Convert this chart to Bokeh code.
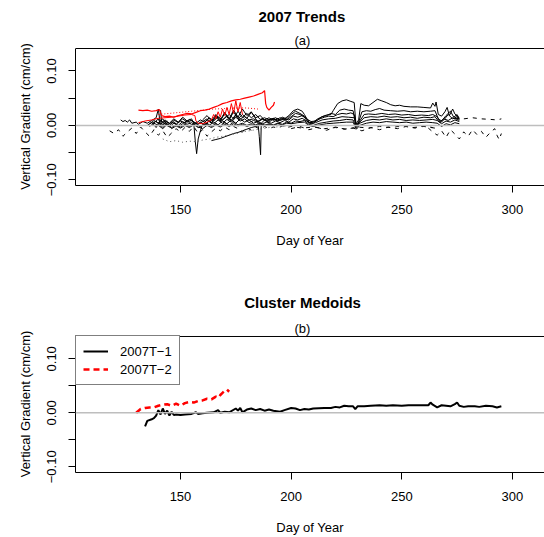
from bokeh.plotting import figure
from bokeh.models import (FixedTicker, Span, Title, Range1d, Legend, LegendItem)
from bokeh.layouts import column
from bokeh.embed import file_html
from bokeh.resources import INLINE

FONT = "Liberation Sans"

# ---------------- panel (a): 2007 trends ----------------
t01_day = [138, 140, 141, 143, 145, 147, 149, 151, 153, 155, 157, 159, 161, 163, 165, 167, 169, 171, 173, 175,
           177, 179, 181, 183, 185, 187, 189, 191, 193, 195, 197, 199, 201, 203, 205, 206, 208, 210, 212, 214,
           216, 218, 219, 221, 223, 225, 227, 228.5, 229.3, 230.5, 231.5, 233, 235, 237, 239, 241, 243, 245,
           247, 249, 251, 254, 257, 260, 263, 264, 265, 265.5, 266.5, 268, 269.5, 270.5, 271.5, 273, 274, 275, 276]
t01_val = [0.004, 0.012, 0.002, 0.008, 0.003, 0.010, 0.005, 0.012, 0.006, 0.009, 0.004, 0.010, 0.006, 0.014,
           0.008, 0.016, 0.010, 0.018, 0.009, 0.020, 0.012, 0.016, 0.010, 0.012, 0.008, 0.011, 0.009, 0.012,
           0.010, 0.014, 0.012, 0.018, 0.027, 0.030, 0.026, 0.020, 0.006, 0.004, 0.010, 0.016, 0.019, 0.020,
           0.027, 0.040, 0.045, 0.047, 0.044, 0.042, 0.002, 0.010, 0.040, 0.037, 0.036, 0.042, 0.048, 0.045,
           0.042, 0.038, 0.036, 0.037, 0.035, 0.034, 0.034, 0.033, 0.032, 0.041, 0.035, 0.043, 0.020, 0.017,
           0.025, 0.033, 0.018, 0.030, 0.021, 0.017, 0.014]

t02_day = [136, 138, 140, 142, 144, 146, 148, 150, 152, 154, 156, 158, 160, 162, 164, 166, 168, 170, 172, 174,
           176, 178, 180, 182, 184, 186, 188, 190, 192, 194, 196, 198, 200, 202, 204, 206, 208, 210, 212, 214,
           216, 218, 220, 222, 224, 226, 228, 229.3, 230.5, 232, 234, 236, 238, 240, 242, 245, 248, 251, 254,
           257, 260, 263, 265, 266.5, 268, 270, 272, 273.5, 275, 276]
t02_val = [0.002, 0.009, 0.004, 0.012, 0.000, 0.006, 0.002, 0.008, 0.004, 0.011, 0.006, 0.002, 0.007, 0.012,
           0.005, 0.015, 0.007, 0.013, 0.020, 0.012, 0.026, 0.015, 0.022, 0.014, 0.020, 0.011, 0.014, 0.010,
           0.013, 0.008, 0.012, 0.010, 0.016, 0.022, 0.020, 0.015, 0.004, 0.006, 0.012, 0.016, 0.018, 0.022,
           0.020, 0.028, 0.030, 0.028, 0.027, -0.002, 0.006, 0.025, 0.027, 0.026, 0.029, 0.031, 0.028, 0.027,
           0.026, 0.027, 0.025, 0.026, 0.025, 0.026, 0.027, 0.012, 0.008, 0.018, 0.026, 0.015, 0.020, 0.012]

t03_day = [135, 137, 139, 141, 143, 145, 147, 149, 151, 153, 155, 157, 159, 161, 163, 165, 167, 169, 171, 173,
           175, 177, 179, 181, 183, 185, 187, 189, 191, 193, 195, 197, 199, 201, 203, 205, 207, 209, 211, 213,
           215, 217, 219, 221, 223, 225, 227, 228.5, 229.5, 231, 233, 235, 238, 241, 244, 247, 250, 253, 256,
           259, 262, 264, 266, 267.5, 269, 271, 273, 275, 276]
t03_val = [0.000, 0.006, -0.004, 0.010, 0.002, -0.003, 0.004, 0.000, 0.007, 0.002, 0.005, 0.000, 0.006, 0.001,
           0.008, 0.003, 0.010, 0.004, 0.011, 0.006, 0.015, 0.008, 0.012, 0.005, 0.009, 0.006, 0.012, 0.007,
           0.011, 0.014, 0.009, 0.012, 0.010, 0.017, 0.015, 0.018, 0.012, 0.007, 0.008, 0.012, 0.015, 0.017,
           0.016, 0.020, 0.022, 0.021, 0.023, 0.020, 0.000, 0.008, 0.020, 0.021, 0.020, 0.022, 0.020, 0.021,
           0.019, 0.020, 0.018, 0.019, 0.018, 0.020, 0.016, 0.005, 0.010, 0.020, 0.012, 0.016, 0.010]

t04_day = [137, 139, 141, 143, 145, 147, 149, 151, 153, 155, 157, 159, 161, 163, 165, 167, 169, 171, 173, 175,
           177, 179, 181, 183, 185, 187, 189, 191, 193, 195, 197, 199, 201, 203, 205, 207, 209, 211, 214, 217,
           220, 223, 226, 228.5, 229.5, 231, 233, 236, 239, 242, 245, 248, 251, 254, 257, 260, 263, 265, 267,
           269, 271, 273, 275, 276]
t04_val = [0.003, 0.008, -0.002, 0.005, 0.000, 0.007, -0.002, 0.003, 0.009, 0.001, 0.004, -0.003, 0.003, 0.000,
           0.006, 0.001, 0.008, 0.003, 0.010, 0.004, 0.012, 0.006, 0.010, 0.004, 0.007, 0.003, 0.006, 0.004,
           0.008, 0.005, 0.009, 0.006, 0.012, 0.010, 0.013, 0.008, 0.003, 0.005, 0.010, 0.012, 0.013, 0.016,
           0.015, 0.014, -0.001, 0.006, 0.014, 0.016, 0.015, 0.017, 0.015, 0.016, 0.014, 0.015, 0.013, 0.015,
           0.014, 0.016, 0.006, 0.012, 0.009, 0.014, 0.011, 0.009]

t05_day = [136, 138, 140, 142, 144, 146, 148, 150, 152, 154, 156, 158, 160, 162, 164, 166, 168, 170, 172, 174,
           176, 178, 180, 182, 184, 186, 188, 190, 192, 194, 196, 198, 200, 202, 204, 206, 208, 210, 213, 216,
           219, 222, 225, 228, 229.5, 231, 234, 237, 240, 243, 246, 249, 252, 255, 258, 261, 264, 266, 268,
           270, 272, 274, 276]
t05_val = [-0.002, 0.004, 0.000, -0.006, 0.002, -0.004, 0.001, -0.003, 0.002, -0.002, 0.003, -0.004, 0.000,
           0.004, -0.002, 0.003, -0.001, 0.005, 0.000, 0.006, 0.001, 0.004, 0.000, 0.003, 0.001, 0.004, 0.000,
           0.003, 0.001, 0.004, 0.002, 0.006, 0.004, 0.008, 0.007, 0.009, 0.002, 0.000, 0.004, 0.006, 0.008,
           0.009, 0.011, 0.010, -0.004, 0.004, 0.009, 0.011, 0.010, 0.012, 0.010, 0.011, 0.009, 0.010, 0.009,
           0.010, 0.011, 0.009, 0.003, 0.008, 0.006, 0.010, 0.007]

t06_day = [140, 142, 144, 146, 148, 150, 152, 154, 156, 158, 160, 162, 164, 166, 168, 170, 172, 174, 176, 178,
           180, 182, 184, 186, 188, 190, 192, 194, 196, 198, 200, 203, 206, 208, 210, 213, 216, 219, 222, 225,
           228, 229.5, 231, 234, 237, 240, 243, 246, 249, 252, 255, 258, 261, 264, 266, 268, 270, 272, 274, 276]
t06_val = [0.006, -0.004, 0.003, -0.006, -0.001, -0.005, 0.000, -0.004, 0.001, -0.003, -0.006, 0.000, -0.004,
           0.001, -0.003, 0.002, -0.002, 0.003, -0.001, 0.002, -0.002, 0.001, -0.002, 0.002, 0.000, 0.002,
           0.000, 0.003, 0.001, 0.004, 0.003, 0.005, 0.006, 0.000, -0.002, 0.001, 0.003, 0.004, 0.005, 0.006,
           0.006, -0.007, 0.000, 0.004, 0.006, 0.005, 0.007, 0.006, 0.005, 0.006, 0.004, 0.005, 0.006, 0.005,
           0.004, -0.002, 0.003, 0.001, 0.005, 0.003]

t07_day = [141, 141.5, 143, 145, 147, 149, 151, 153, 155, 156, 156.7, 157.3, 158, 159, 160, 162, 164, 166, 168,
           170, 172, 174, 176, 178, 180, 182, 184, 186, 188, 190, 192, 194]
t07_val = [0.028, 0.005, 0.010, 0.004, 0.012, 0.006, 0.015, 0.008, 0.012, 0.004, -0.030, -0.052, -0.025, -0.010,
           0.002, 0.010, 0.004, 0.018, 0.008, 0.022, 0.010, 0.025, 0.012, 0.020, 0.013, 0.024, 0.014, 0.018,
           0.010, 0.014, 0.009, 0.013]

t08_day = [160, 162, 164, 166, 168, 170, 172, 174, 176, 178, 180, 182, 184, 185, 185.6, 186.2, 186.5, 188, 190,
           192, 194, 196, 198, 200, 202, 204, 206, 208]
t08_val = [0.010, 0.018, 0.008, 0.020, 0.010, 0.024, 0.012, 0.028, 0.015, 0.030, 0.018, 0.025, 0.012, 0.006,
           -0.020, -0.054, 0.004, 0.010, 0.006, 0.012, 0.008, 0.015, 0.012, 0.020, 0.026, 0.022, 0.017, 0.008]

t09_day = [164, 166, 168, 170, 172, 174, 176, 178, 180, 182, 184, 186, 188]
t09_val = [-0.028, -0.026, -0.024, -0.021, -0.018, -0.015, -0.013, -0.010, -0.007, -0.004, -0.002, 0.000, 0.002]

t10_day = [123, 124, 125, 126, 127, 128, 130, 131, 133, 135, 137, 139, 140, 140.8, 142, 144]
t10_val = [0.010, 0.007, 0.009, 0.006, 0.010, 0.004, 0.006, 0.002, 0.007, 0.004, 0.009, 0.014, 0.030, 0.005,
           0.000, 0.008]

d01_day = [118, 120, 122, 124, 126, 128, 130, 132, 134, 136, 138, 140, 142, 144, 146, 148, 150, 152, 154, 156,
           158, 160, 162, 164, 166, 168, 170, 172, 174, 176, 178, 180, 182, 184, 186, 188, 190, 192, 194, 196,
           198, 200, 205, 210, 215, 220, 225, 230, 235, 240, 245, 250, 255, 260, 265]
d01_val = [-0.010, -0.015, -0.008, -0.020, -0.012, -0.005, -0.015, -0.003, -0.012, -0.020, -0.008, -0.018,
           -0.010, -0.022, -0.014, -0.006, -0.012, -0.004, -0.011, -0.002, -0.015, -0.008, -0.020, -0.012,
           -0.005, -0.010, -0.003, -0.008, -0.002, -0.006, -0.012, -0.004, -0.009, -0.003, -0.007, -0.002,
           -0.006, -0.003, -0.005, -0.001, -0.004, -0.002, -0.005, -0.003, -0.006, -0.004, -0.007, -0.003,
           -0.005, -0.002, -0.004, -0.001, -0.004, -0.002, -0.005]

d02_day = [262, 264, 266, 268, 270, 272, 274, 276, 278, 280, 282, 284, 286, 288, 290, 292, 293, 294, 295]
d02_val = [-0.005, -0.012, -0.018, -0.010, -0.022, -0.008, -0.016, -0.025, -0.012, -0.020, -0.008, -0.017,
           -0.011, -0.022, -0.013, -0.006, -0.018, -0.026, -0.015]

d03_day = [274, 278, 282, 286, 290, 293, 295]
d03_val = [0.013, 0.012, 0.014, 0.012, 0.011, 0.010, 0.012]

d04_day = [142, 145, 148, 151, 154, 157, 160, 163, 166, 169, 172, 175, 178, 181, 184, 187, 190, 193, 196, 200]
d04_val = [-0.025, -0.030, -0.028, -0.031, -0.029, -0.030, -0.027, -0.025, -0.022, -0.020, -0.018, -0.015,
           -0.012, -0.010, -0.008, -0.006, -0.004, -0.003, -0.002, 0.000]

d05_day = [200, 204, 208, 212, 216, 220, 224, 228, 232, 236, 240, 244, 248, 252, 256, 260, 264]
d05_val = [-0.006, -0.002, -0.008, -0.004, -0.009, -0.003, -0.007, -0.005, -0.010, -0.004, -0.008, -0.003,
           -0.006, -0.002, -0.005, -0.001, -0.004]

r01_day = [131, 133, 135, 137, 139, 140.5, 141.5, 143, 145, 147, 149, 151, 153, 155, 157, 159, 161, 163, 165,
           167, 169, 171, 173, 175, 177, 179, 181, 183, 185, 187, 188, 188.5, 189, 190, 191, 192, 192.5]
r01_val = [0.028, 0.027, 0.028, 0.026, 0.027, 0.029, 0.018, 0.016, 0.017, 0.015, 0.018, 0.020, 0.022, 0.021,
           0.024, 0.027, 0.028, 0.030, 0.033, 0.036, 0.040, 0.042, 0.045, 0.047, 0.048, 0.050, 0.052, 0.054,
           0.057, 0.060, 0.064, 0.040, 0.033, 0.028, 0.033, 0.037, 0.043]

r02_day = [131, 134, 137, 140, 143, 146, 149, 152, 155, 156.5, 157, 158, 160, 162, 164, 165, 166, 167, 168,
           169, 170, 171, 172, 173, 174, 175, 176, 177, 178]
r02_val = [0.005, 0.008, 0.010, 0.013, 0.014, 0.015, 0.017, 0.019, 0.020, 0.018, 0.008, 0.004, 0.003, 0.006,
           0.010, 0.020, 0.012, 0.025, 0.015, 0.030, 0.018, 0.033, 0.020, 0.040, 0.022, 0.045, 0.025, 0.042,
           0.020]

r03_day = [140, 145, 150, 155, 160, 165, 170, 175, 180, 185]
r03_val = [0.020, 0.022, 0.024, 0.026, 0.028, 0.030, 0.031, 0.032, 0.032, 0.030]

# ---------------- panel (b): cluster medoids ----------------
m1_day = [134, 135, 137, 138, 139, 140, 141, 142, 143, 144, 145, 146, 147, 148, 150, 152, 155, 157, 158, 160,
          162, 165, 167, 168, 170, 172, 175, 176, 177, 178, 180, 182, 184, 186, 188, 190, 192, 195, 197, 200,
          202, 204, 206, 208, 210, 215, 218, 220, 222, 224, 226, 228, 229, 230, 233, 236, 240, 243, 246, 250,
          253, 256, 260, 262, 263, 264, 266, 268, 270, 272, 274, 275, 276, 278, 280, 283, 285, 288, 291, 293, 295]
m1_val = [-0.025, -0.015, -0.012, -0.010, -0.005, 0.005, -0.003, 0.008, -0.002, 0.004, -0.005, 0.002, -0.004,
          -0.003, -0.004, -0.003, -0.002, 0.001, -0.002, -0.001, 0.000, 0.001, 0.005, 0.000, 0.002, 0.001,
          0.008, 0.004, 0.009, 0.001, 0.006, 0.008, 0.005, 0.007, 0.004, 0.006, 0.004, 0.002, 0.005, 0.009,
          0.008, 0.005, 0.007, 0.006, 0.008, 0.009, 0.009, 0.011, 0.010, 0.013, 0.012, 0.012, 0.007, 0.012,
          0.012, 0.013, 0.014, 0.013, 0.014, 0.013, 0.014, 0.014, 0.014, 0.014, 0.019, 0.015, 0.010, 0.014,
          0.013, 0.012, 0.016, 0.019, 0.013, 0.011, 0.012, 0.012, 0.011, 0.013, 0.012, 0.010, 0.012]

m2_day = [130, 132, 134, 136, 138, 140, 142, 144, 146, 148, 150, 152, 154, 156, 158, 160, 162, 164, 166, 167,
          168, 169, 170, 171, 172]
m2_val = [0.000, 0.007, 0.009, 0.010, 0.010, 0.013, 0.015, 0.016, 0.013, 0.017, 0.013, 0.018, 0.020, 0.019,
          0.022, 0.023, 0.026, 0.025, 0.030, 0.028, 0.033, 0.037, 0.041, 0.043, 0.039]

x_ticks = [150, 200, 250, 300]
y_major = [-0.1, 0.0, 0.1]
y_minor = [-0.05, 0.05]
y_labels = {-0.1: "\u22120.10", 0.0: "0.00", 0.1: "0.10"}

X_RANGE = (102.56, 314.5)
BOX_BOTTOM = -0.1105   # value at the bottom of each plot box
BOX_TOP = 0.1413       # value at the top of each plot box
PX_PER_UNIT = 543.0    # vertical scale of both panels


def make_panel(height, frame_top, bottom):
    # frame starts one pixel above the drawn box so that the box top line is fully visible
    p = figure(width=544, height=height, output_backend="svg", toolbar_location=None,
               x_range=Range1d(*X_RANGE), y_range=Range1d(BOX_BOTTOM, BOX_TOP + 1.0 / PX_PER_UNIT),
               min_border_left=75, min_border_right=0, min_border_top=frame_top, min_border_bottom=bottom)
    p.outline_line_color = None
    p.grid.visible = False
    p.background_fill_color = "white"
    p.border_fill_color = "white"

    xa = p.xaxis[0]
    xa.ticker = FixedTicker(ticks=x_ticks)
    xa.axis_label = "Day of Year"
    ya = p.yaxis[0]
    ya.ticker = FixedTicker(ticks=y_major, minor_ticks=y_minor)
    ya.major_label_overrides = y_labels
    ya.major_label_orientation = "vertical"
    ya.axis_label = "Vertical Gradient (cm/cm)"
    ya.bounds = (BOX_BOTTOM, BOX_TOP)
    for ax in (xa, ya):
        ax.axis_line_color = "black"
        ax.axis_line_width = 1
        ax.major_tick_line_color = "black"
        ax.major_tick_out = 7
        ax.major_tick_in = 0
        ax.minor_tick_line_color = "black"
        ax.minor_tick_out = 7
        ax.minor_tick_in = 0
        ax.major_label_text_font = FONT
        ax.major_label_text_font_size = "13px"
        ax.major_label_text_color = "black"
        ax.axis_label_text_font = FONT
        ax.axis_label_text_font_size = "13px"
        ax.axis_label_text_font_style = "normal"
        ax.axis_label_text_color = "black"
    xa.minor_tick_line_color = None
    xa.major_label_standoff = 12
    xa.axis_label_standoff = 16
    ya.major_label_standoff = 12
    ya.axis_label_standoff = 12

    # top edge of the plot box
    p.add_layout(Span(location=BOX_TOP, dimension="width", line_color="black", line_width=1))
    return p


def add_titles(p, title, sub, title_offset, sub_offset, title_standoff):
    p.add_layout(Title(text=sub, align="left", offset=sub_offset, standoff=0,
                       text_font=FONT, text_font_size="13px", text_font_style="normal",
                       text_color="black"), "above")
    p.add_layout(Title(text=title, align="left", offset=title_offset, standoff=title_standoff,
                       text_font=FONT, text_font_size="15px", text_font_style="bold",
                       text_color="black"), "above")


# panel a
pa = make_panel(268, 47, 83)
solid_black = [(t01_day, t01_val), (t02_day, t02_val), (t03_day, t03_val), (t04_day, t04_val),
               (t05_day, t05_val), (t06_day, t06_val), (t07_day, t07_val), (t08_day, t08_val),
               (t09_day, t09_val), (t10_day, t10_val)]
for d, v in solid_black:
    pa.line(d, v, line_color="black", line_width=1)
for d, v in [(d01_day, d01_val), (d02_day, d02_val), (d03_day, d03_val), (d05_day, d05_val)]:
    pa.line(d, v, line_color="black", line_width=1, line_dash="4 5")
pa.line(d04_day, d04_val, line_color="#555555", line_width=1, line_dash="1 3")
pa.line(r03_day, r03_val, line_color="red", line_width=1, line_dash="1 2")
pa.line(r02_day, r02_val, line_color="red", line_width=1)
pa.line(r01_day, r01_val, line_color="red", line_width=1.2)
pa.add_layout(Span(location=0, dimension="width", line_color="#bebebe", line_width=1.5))
add_titles(pa, "2007 Trends", "(a)", 183, 219, 11)

# panel b
pb = make_panel(269, 67, 65)
l1 = pb.line(m1_day, m1_val, line_color="black", line_width=2)
l2 = pb.line(m2_day, m2_val, line_color="red", line_width=2.5, line_dash="6 4")
pb.add_layout(Span(location=0, dimension="width", line_color="#bebebe", line_width=1.5))
legend = Legend(items=[LegendItem(label="2007T\u22121", renderers=[l1]),
                       LegendItem(label="2007T\u22122", renderers=[l2])],
                location="top_left", margin=0, padding=7, spacing=2,
                glyph_width=25, glyph_height=16, label_standoff=12,
                label_text_font=FONT, label_text_font_size="13px", label_text_color="black",
                border_line_color="black", border_line_width=1, background_fill_alpha=1.0)
pb.add_layout(legend)
add_titles(pb, "Cluster Medoids", "(b)", 168.7, 219, 15)

layout = column(pa, pb, spacing=0)
open("out.html", "w").write(file_html(layout, INLINE))
